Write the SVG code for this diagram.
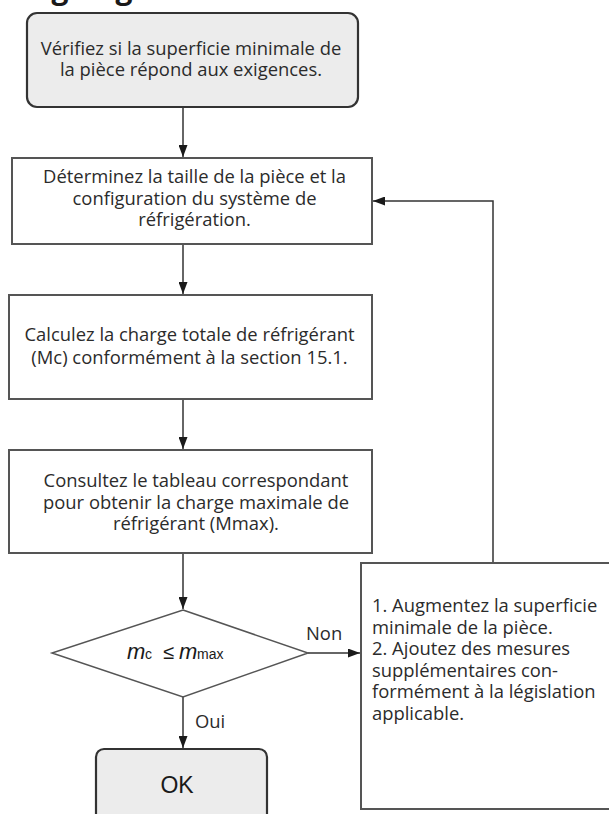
<svg xmlns="http://www.w3.org/2000/svg" width="609" height="814" viewBox="0 0 609 814">
<style>
.t{font-family:"Open Sans","Noto Sans","DejaVu Sans",sans-serif;font-size:18.4px;fill:#2b2b2b}
.a{font-family:"Liberation Sans",Arial,sans-serif;fill:#1a1a1a}
.box{fill:#fff;stroke:#555;stroke-width:2}
.gbox{fill:#ececec;stroke:#333;stroke-width:2.2}
.ln{fill:none;stroke:#333;stroke-width:1.5}
</style>
<defs>
<marker id="ah" viewBox="0 0 12 9" refX="12" refY="4.5" markerWidth="12" markerHeight="9" markerUnits="userSpaceOnUse" orient="auto">
<path d="M0,0 L12,4.5 L0,9 z" fill="#1a1a1a"/>
</marker>
</defs>
<text x="14" y="-1" font-family="'Open Sans',sans-serif" font-weight="bold" font-size="30" fill="#1a1a1a">Organigramme</text>
<g id="connectors">
<line class="ln" x1="183" y1="108" x2="183" y2="157" marker-end="url(#ah)"/>
<line class="ln" x1="183" y1="244" x2="183" y2="294" marker-end="url(#ah)"/>
<line class="ln" x1="183" y1="399" x2="183" y2="449" marker-end="url(#ah)"/>
<line class="ln" x1="183" y1="553" x2="183" y2="609" marker-end="url(#ah)"/>
<line class="ln" x1="183" y1="697" x2="183" y2="748" marker-end="url(#ah)"/>
<line class="ln" x1="308" y1="653" x2="360" y2="653" marker-end="url(#ah)"/>
<polyline class="ln" points="493,563 493,201 373,201" marker-end="url(#ah)"/>
<text class="t" x="306" y="640">Non</text>
<text class="t" x="195" y="728">Oui</text>
</g>
<g id="n1">
<rect class="gbox" x="27" y="13" width="331" height="94" rx="10"/>
<text class="t" text-anchor="middle" x="191" y="55">Vérifiez si la superficie minimale de</text>
<text class="t" text-anchor="middle" x="191" y="76">la pièce répond aux exigences.</text>
</g>
<g id="n2">
<rect class="box" x="12" y="158" width="360" height="86"/>
<text class="t" text-anchor="middle" x="194.5" y="183">Déterminez la taille de la pièce et la</text>
<text class="t" text-anchor="middle" x="194.5" y="205">configuration du système de</text>
<text class="t" text-anchor="middle" x="194.5" y="226">réfrigération.</text>
</g>
<g id="n3">
<rect class="box" x="9" y="295" width="363" height="104"/>
<text class="t" text-anchor="middle" x="189.5" y="341">Calculez la charge totale de réfrigérant</text>
<text class="t" text-anchor="middle" x="189.5" y="364">(Mc) conformément à la section 15.1.</text>
</g>
<g id="n4">
<rect class="box" x="9" y="450" width="363" height="103"/>
<text class="t" text-anchor="middle" x="196" y="487">Consultez le tableau correspondant</text>
<text class="t" text-anchor="middle" x="196" y="509">pour obtenir la charge maximale de</text>
<text class="t" text-anchor="middle" x="196" y="530">réfrigérant (Mmax).</text>
</g>
<g id="n5">
<polygon points="183,610 308,653 183,697 52,653" fill="#fff" stroke="#555" stroke-width="1.5"/>
<text class="a" y="659"><tspan x="127" font-style="italic" font-size="22">m</tspan><tspan x="145" font-size="14">c</tspan><tspan x="163" font-size="20">≤</tspan><tspan x="179" font-style="italic" font-size="22">m</tspan><tspan x="197" font-size="14">max</tspan></text>
</g>
<g id="n6">
<rect class="box" x="361" y="563" width="260" height="246"/>
<text class="t" x="372" y="612">1. Augmentez la superficie</text>
<text class="t" x="372" y="633.5">minimale de la pièce.</text>
<text class="t" x="372" y="655">2. Ajoutez des mesures</text>
<text class="t" x="372" y="676.5">supplémentaires con-</text>
<text class="t" x="372" y="698">formément à la législation</text>
<text class="t" x="372" y="719.5">applicable.</text>
</g>
<g id="n7">
<rect class="gbox" x="96" y="749" width="171" height="80" rx="8"/>
<text class="a" text-anchor="middle" x="177" y="793" font-size="23">OK</text>
</g>
</svg>
